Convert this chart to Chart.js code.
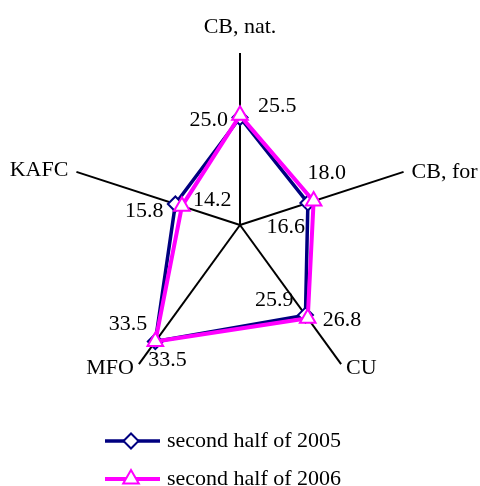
<!DOCTYPE html>
<html>
<head>
<meta charset="utf-8">
<script src="https://cdn.jsdelivr.net/npm/chart.js@4/dist/chart.umd.min.js"></script>
<style>
  html, body { margin: 0; padding: 0; background: #fff; }
  #wrap { width: 480px; height: 486px; }
</style>
</head>
<body>
<div id="wrap"><canvas id="myChart" width="480" height="486"></canvas></div>
<script>
// data
const axes = ['CB, nat.', 'CB, for', 'CU', 'MFO', 'KAFC'];
const half2005 = [25.0, 16.6, 25.9, 33.5, 15.8];
const half2006 = [25.5, 18.0, 26.8, 33.5, 14.2];
const seriesNames = ['second half of 2005', 'second half of 2006'];

const NAVY = '#000080';
const PINK = '#ff00ff';
const FONT = '"Liberation Serif", "Times New Roman", serif';

// where the value labels sit relative to their point
const valueLabelPos = [
  // 2005: text to the left of the point
  [{dx: -12, dy: 3, align: 'right'}, {dx: -3, dy: 24, align: 'right'}, {dx: -12, dy: -15, align: 'right'},
   {dx: -8, dy: -17, align: 'right'}, {dx: -12, dy: 7, align: 'right'}],
  // 2006: text to the right
  [{dx: 18, dy: -9, align: 'left'}, {dx: -6, dy: -28, align: 'left'}, {dx: 15, dy: 2, align: 'left'},
   {dx: -7, dy: 19, align: 'left'}, {dx: 11, dy: -6, align: 'left'}]
];
// axis titles relative to the end of each axis line
const axisLabelPos = [
  {dx: 0, dy: -26, align: 'center'},
  {dx: 8, dy: 0, align: 'left'},
  {dx: 5, dy: 4, align: 'left'},
  {dx: -5, dy: 4, align: 'right'},
  {dx: -8, dy: -2, align: 'right'}
];

const labelsPlugin = {
  id: 'labelsPlugin',
  afterDatasetsDraw(chart) {
    const ctx = chart.ctx;
    const scale = chart.scales.r;
    ctx.save();
    ctx.fillStyle = '#000';
    ctx.font = '22px ' + FONT;
    ctx.textBaseline = 'middle';
    // axis titles
    for (let i = 0; i < axes.length; i++) {
      let p = scale.getPointPosition(i, scale.drawingArea);
      ctx.textAlign = axisLabelPos[i].align;
      ctx.fillText(axes[i], p.x + axisLabelPos[i].dx, p.y + axisLabelPos[i].dy);
    }
    // value labels
    chart.data.datasets.forEach(function(ds, d) {
      let meta = chart.getDatasetMeta(d);
      meta.data.forEach(function(pt, i) {
        let pos = valueLabelPos[d][i];
        ctx.textAlign = pos.align;
        ctx.fillText(ds.data[i].toFixed(1), pt.x + pos.dx, pt.y + pos.dy);
      });
    });
    ctx.restore();
  },
  afterDraw(chart) {
    // legend: line with marker, then the name
    const ctx = chart.ctx;
    const rows = [
      {y: 441, color: NAVY, style: 'rectRot', radius: 7.5, lw: 3.5},
      {y: 479, color: PINK, style: 'triangle', radius: 9, lw: 4}
    ];
    ctx.save();
    rows.forEach(function(r, i) {
      ctx.strokeStyle = r.color;
      ctx.lineWidth = r.lw;
      ctx.beginPath();
      ctx.moveTo(105, r.y);
      ctx.lineTo(160, r.y);
      ctx.stroke();
      ctx.fillStyle = '#fff';
      ctx.lineWidth = 2;
      Chart.helpers.drawPoint(ctx, {pointStyle: r.style, radius: r.radius, borderWidth: 2, rotation: 0}, 131, r.y);
      ctx.fillStyle = '#000';
      ctx.font = '22px ' + FONT;
      ctx.textAlign = 'left';
      ctx.textBaseline = 'middle';
      ctx.fillText(seriesNames[i], 167, r.y);
    });
    ctx.restore();
  }
};

chartIt();

function chartIt(){
  let ctx = document.getElementById('myChart').getContext('2d');

  let myChart = new Chart(ctx, {
    type: 'radar',
    data: {
      labels: axes,
      datasets: [{
          label: seriesNames[0],
          data: half2005,
          fill: false,
          borderColor: NAVY,
          borderWidth: 3.5,
          pointStyle: 'rectRot',
          pointRadius: 7.5,
          pointBorderWidth: 2,
          pointBackgroundColor: '#fff',
          pointBorderColor: NAVY,
          order: 1
        },
        {
          label: seriesNames[1],
          data: half2006,
          fill: false,
          borderColor: PINK,
          borderWidth: 4,
          pointStyle: 'triangle',
          pointRadius: 9,
          pointBorderWidth: 2,
          pointBackgroundColor: '#fff',
          pointBorderColor: PINK,
          order: 0
        }]
    },
    options: {
      responsive: false,
      animation: false,
      layout: {
        padding: {left: 68, right: 68, top: 53, bottom: 89}
      },
      plugins: {
        legend: {display: false},
        tooltip: {enabled: false}
      },
      elements: {
        line: {tension: 0}
      },
      scales: {
        r: {
          min: 0,
          max: 40,
          ticks: {display: false},
          grid: {display: false},
          angleLines: {display: true, color: '#000', lineWidth: 2},
          pointLabels: {display: false}
        }
      }
    },
    plugins: [labelsPlugin]
  });
}
</script>
</body>
</html>
